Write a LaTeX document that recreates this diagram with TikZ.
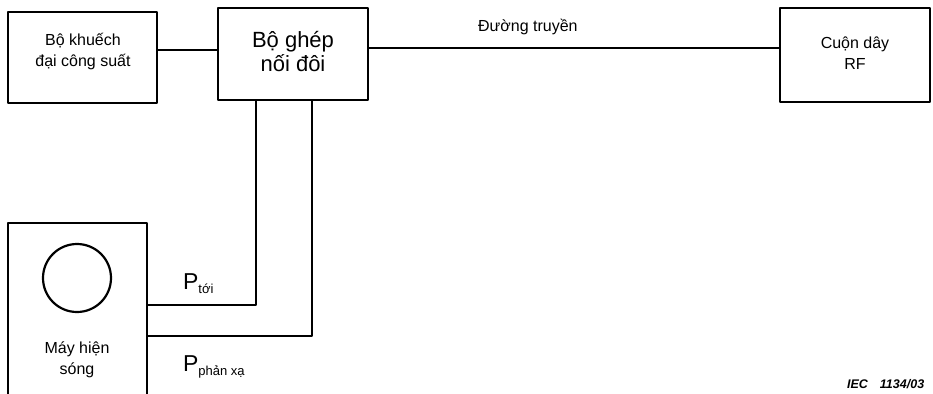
\documentclass[tikz,border=0pt]{standalone}
\usepackage{fontspec}
\setmainfont{Liberation Sans}
\begin{document}
\begin{tikzpicture}[x=1pt,y=-1pt,
  line width=2.2pt, line join=round,
  blk/.style={draw, line width=2.2pt, inner sep=0pt},
  txt/.style={font=\fontsize{16}{21}\selectfont, align=center, inner sep=0pt},
  big/.style={font=\fontsize{22}{22}\selectfont, align=center, inner sep=0pt}]
\useasboundingbox (0,0) rectangle (933,393);
% boxes
\node[blk, minimum width=149pt, minimum height=91pt] (amp) at (82.5,57.5) {};
\node[blk, minimum width=150pt, minimum height=92pt] (cpl) at (293,54) {};
\node[blk, minimum width=150pt, minimum height=94pt] (coil) at (855,55) {};
\node[blk, minimum width=139pt, minimum height=187pt] (osc) at (77.5,316.5) {};
\node[draw, circle, line width=2.2pt, minimum size=68pt, inner sep=0pt] (scr) at (77,278) {};
% texts
\node[txt] (tamp) at (83,52) {Bộ khuếch\\đại công suất};
\node[big] (tcpl) at (293,52) {Bộ ghép\\[2pt]nối đôi};
\node[txt] (tcoil) at (855,53) {Cuộn dây\\RF};
\node[txt] (tosc) at (77,360) {Máy hiện\\sóng};
\node[txt, anchor=west] (tline) at (477,27) {Đường truyền};
\node[anchor=west, inner sep=0pt] (pt) at (182,284) {\fontsize{23}{23}\selectfont P\raisebox{-4pt}{\fontsize{13}{13}\selectfont tới}};
\node[anchor=west, inner sep=0pt] (pr) at (182,367) {\fontsize{23}{23}\selectfont P\raisebox{-4pt}{\fontsize{13}{13}\selectfont phản xạ}};
\node[anchor=west, inner sep=0pt, font=\fontsize{12.5}{12.5}\selectfont\bfseries\itshape] (iec) at (846,384) {IEC\hspace{12pt}1134/03};
% connectors
\draw (amp.east |- 0,50) -- (cpl.west |- 0,50);
\draw (cpl.east |- 0,48) -- (coil.west |- 0,48);
\coordinate (c1) at (256,305);
\coordinate (c2) at (312,336);
\draw (cpl.south -| c1) -- (c1) -- (osc.east |- c1);
\draw (cpl.south -| c2) -- (c2) -- (osc.east |- c2);
\end{tikzpicture}
\end{document}
